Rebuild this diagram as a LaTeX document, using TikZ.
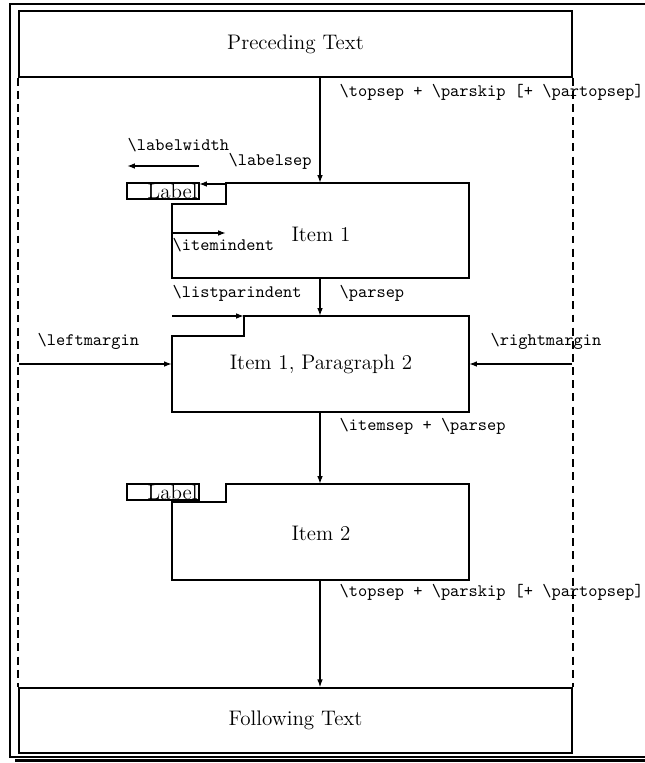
\documentclass[tikz,border=0pt]{standalone}
\usetikzlibrary{arrows.meta}
\begin{document}
\begin{tikzpicture}[x=0.57pt,y=-0.57pt,
  line width=0.8pt,
  outline/.style={draw, line width=0.8pt},
  lbl/.style={font=\ttfamily, inner sep=0pt, anchor=west},
  txt/.style={font=\large, inner sep=0pt},
  arr/.style={-{Latex[length=4.5pt,width=3.2pt]}, line width=0.8pt},
  dashline/.style={dash pattern=on 4.5pt off 3pt, line width=1pt},
  frame/.style={line width=0.6pt}]
\useasboundingbox (0,0) rectangle (645,763);
% outer page frame with shadow
\draw[frame] (660,4) -- (10,4) -- (10,757) -- (660,757);
\draw[line width=1.8pt] (15,760.5) -- (660,760.5);

% coordinates
\coordinate (col) at (320,0);
\coordinate (lm) at (19,364);
\coordinate (rm) at (572,364);
\coordinate (lbtop) at (226,184);
\coordinate (lbbox) at (199,184);
\coordinate (lwa) at (199,166);
\coordinate (lwb) at (127,166);
\coordinate (iia) at (172,233);
\coordinate (iib) at (226,233);
\coordinate (lpa) at (172,316);
\coordinate (lpb) at (244,316);

% boxes
\node[outline, minimum width=315.2pt, minimum height=37.6pt, font=\large] (pre) at (295.5,44) {Preceding Text};
\node[outline, minimum width=315.2pt, minimum height=37.0pt, font=\large] (fol) at (295.5,720.5) {Following Text};

\draw[outline] (226,183) -- (469,183) -- (469,278) -- (172,278) -- (172,204) -- (226,204) -- cycle;
\coordinate (i1t) at (320,183);
\coordinate (i1b) at (320,278);
\draw[outline] (244,316) -- (469,316) -- (469,412) -- (172,412) -- (172,336) -- (244,336) -- cycle;
\coordinate (p2t) at (320,316);
\coordinate (p2b) at (320,412);
\coordinate (p2l) at (172,364);
\coordinate (p2r) at (469,364);
\draw[outline] (226,484) -- (469,484) -- (469,580) -- (172,580) -- (172,502) -- (226,502) -- cycle;
\coordinate (i2t) at (320,484);
\coordinate (i2b) at (320,580);

\draw[outline] (127,183) rectangle (199,199);
\draw[outline] (127,484) rectangle (199,500);
\node[txt] (lab1) at (172.5,191.5) {Label};
\node[txt] (lab2) at (172.5,492.5) {Label};

\node[txt] (it1) at (321,234) {Item 1};
\node[txt] (it1p2) at (321,364) {Item 1, Paragraph 2};
\node[txt] (it2) at (321,533) {Item 2};

% dashed margins
\draw[dashline] (pre.south west) -- (fol.north west);
\draw[dashline] (pre.south east) -- (fol.north east);

% arrows
\draw[arr] (pre.south -| col) -- (i1t);
\draw[arr] (i1b) -- (p2t);
\draw[arr] (p2b) -- (i2t);
\draw[arr] (i2b) -- (fol.north -| col);
\draw[arr] (lbtop) -- (lbbox);
\draw[arr] (lwa) -- (lwb);
\draw[arr] (iia) -- (iib);
\draw[arr] (lpa) -- (lpb);
\draw[arr] (lm) -- (p2l);
\draw[arr] (rm) -- (p2r);

% labels
\node[lbl] (t1) at (339,92) {\textbackslash topsep + \textbackslash parskip [+ \textbackslash partopsep]};
\node[lbl] (t2) at (127,145) {\textbackslash labelwidth};
\node[lbl] (t3) at (228,161) {\textbackslash labelsep};
\node[lbl] (t4) at (172,245) {\textbackslash itemindent};
\node[lbl] (t5) at (172,293) {\textbackslash listparindent};
\node[lbl] (t6) at (339,293) {\textbackslash parsep};
\node[lbl] (t7) at (37,341) {\textbackslash leftmargin};
\node[lbl] (t8) at (490,341) {\textbackslash rightmargin};
\node[lbl] (t9) at (339,426) {\textbackslash itemsep + \textbackslash parsep};
\node[lbl] (t10) at (339,592) {\textbackslash topsep + \textbackslash parskip [+ \textbackslash partopsep]};
\end{tikzpicture}
\end{document}
